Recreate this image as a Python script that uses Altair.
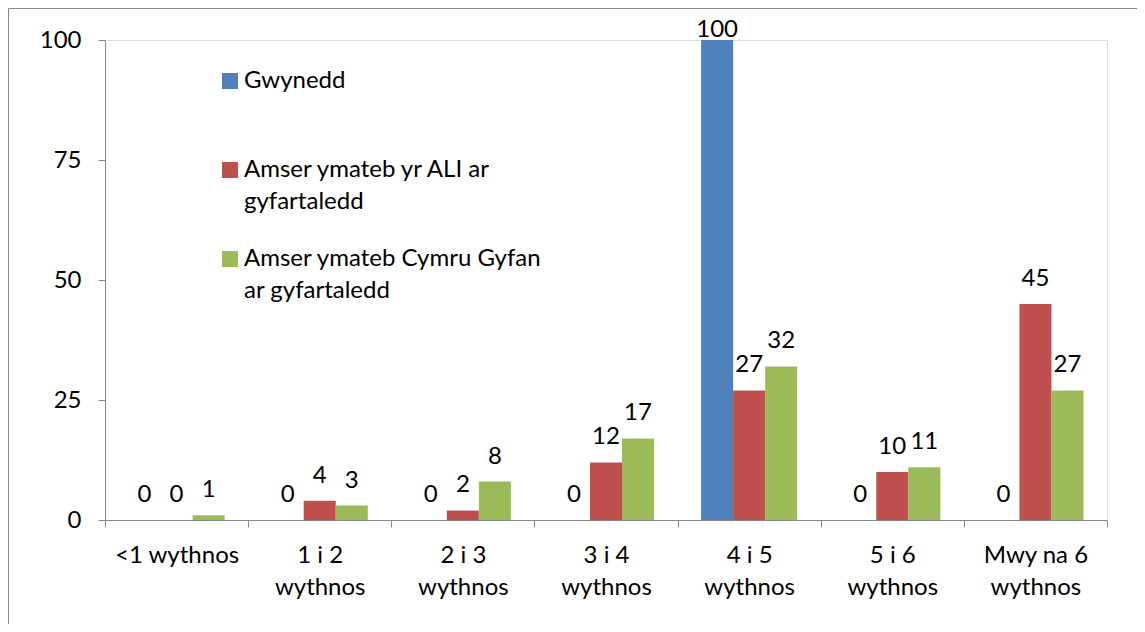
import json
import altair as alt
import pandas as pd

# ---- data ----
categories = ["<1 wythnos", "1 i 2 wythnos", "2 i 3 wythnos", "3 i 4 wythnos",
              "4 i 5 wythnos", "5 i 6 wythnos", "Mwy na 6 wythnos"]
series = ["Gwynedd",
          "Amser ymateb yr ALI ar gyfartaledd",
          "Amser ymateb Cymru Gyfan ar gyfartaledd"]
legend_lines = [["Gwynedd", ""],
                ["Amser ymateb yr ALI ar", "gyfartaledd"],
                ["Amser ymateb Cymru Gyfan", "ar gyfartaledd"]]
gwynedd = [0, 0, 0, 0, 100, 0, 0]
ali = [0, 4, 2, 12, 27, 10, 45]
cymru = [1, 3, 8, 17, 32, 11, 27]
y_ticks = [0, 25, 50, 75, 100]
colors = ["#4F81BD", "#C0504D", "#9BBB59"]

rows = []
for s, vals in zip(series, [gwynedd, ali, cymru]):
    for c, v in zip(categories, vals):
        rows.append({"cat": c, "series": s, "value": v})
df = pd.DataFrame(rows)

FONT = "Lato"
FS = 24
AXIS_GRAY = "#868686"

# legend label expression (multi-line)
legend_expr = ""
for s, lines in zip(series[:-1], legend_lines[:-1]):
    legend_expr += f"datum.label == {json.dumps(s)} ? {json.dumps(lines)} : "
legend_expr += json.dumps(legend_lines[-1])

x_label_expr = ("(indexof(datum.label, ' wythnos') > 1 && indexof(datum.label, '<') != 0) ? "
                "[replace(datum.label, ' wythnos', ''), 'wythnos'] : datum.label")

y_axis = alt.Axis(title=None, values=y_ticks, grid=False, tickSize=7,
                  labelPadding=17, labelFontSize=FS, labelFont=FONT,
                  labelColor="black", domainColor=AXIS_GRAY, tickColor=AXIS_GRAY,
                  labelOverlap=False)

base = alt.Chart(df).encode(
    x=alt.X("cat:N", sort=categories,
            scale=alt.Scale(paddingInner=0, paddingOuter=0),
            axis=alt.Axis(title=None, labelAngle=0, tickBand="extent",
                          labelExpr=x_label_expr, labelLineHeight=32,
                          labelPadding=16, tickSize=7, labelFontSize=FS,
                          labelFont=FONT, labelColor="black",
                          domainColor=AXIS_GRAY, tickColor=AXIS_GRAY)),
    xOffset=alt.XOffset("series:N", sort=series,
                        scale=alt.Scale(paddingInner=0, paddingOuter=0.734)),
)

bars = base.mark_bar().encode(
    y=alt.Y("value:Q", scale=alt.Scale(domain=[0, 100]), axis=y_axis),
    color=alt.Color("series:N", sort=series,
                    scale=alt.Scale(domain=series, range=colors),
                    legend=alt.Legend(title=None, orient="none", legendX=113,
                                      legendY=29, padding=0, symbolType="square",
                                      symbolSize=256, symbolStrokeWidth=0,
                                      labelOffset=2, labelFontSize=FS,
                                      labelFont=FONT, labelColor="black",
                                      labelExpr=legend_expr, rowPadding=33,
                                      labelLimit=500)),
)

labels = base.mark_text(baseline="alphabetic", dy=-18, fontSize=FS, font=FONT,
                        color="black").transform_calculate(
    ly="min(datum.value, 96.9)"
).encode(
    y=alt.Y("ly:Q", scale=alt.Scale(domain=[0, 100]), axis=y_axis),
    text=alt.Text("value:Q"),
)

frame = alt.Chart(alt.InlineData(values=[{"f": 1}])).mark_rect(
    fillOpacity=0, stroke=AXIS_GRAY, strokeWidth=1
).encode(x=alt.value(-96.5), x2=alt.value(1200), y=alt.value(-31.5), y2=alt.value(700))

chart = alt.layer(frame, bars, labels).properties(
    width=1002, height=480,
    autosize=alt.AutoSizeParams(type="none"),
    padding={"left": 97, "top": 32, "right": 30, "bottom": 104},
    background="white",
).configure_view(stroke=None).configure(
    style={"guide-label": {"lineHeight": 32}}
)

chart.save("out.html", embed_options={"renderer": "svg", "actions": False})
